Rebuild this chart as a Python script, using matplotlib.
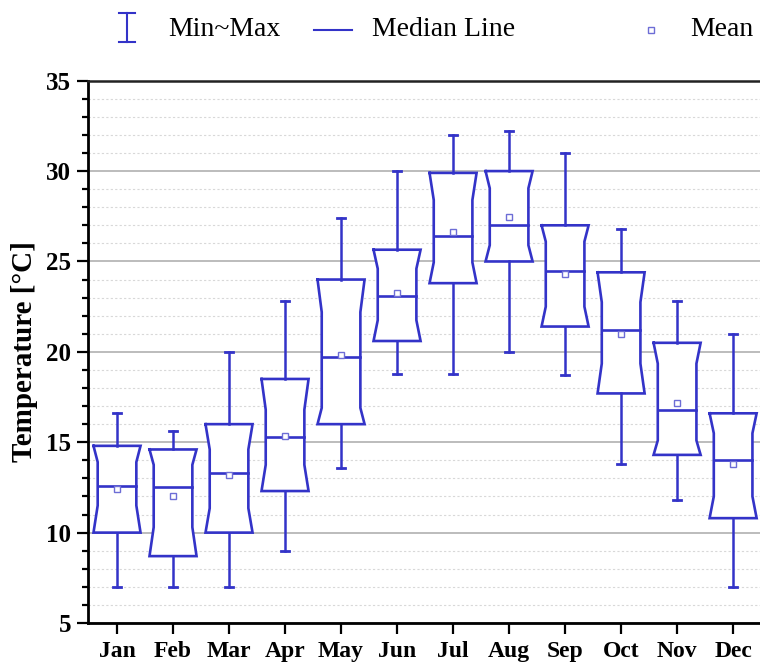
import numpy as np
import matplotlib
matplotlib.use('Agg')
import matplotlib.pyplot as plt
from matplotlib.lines import Line2D
from matplotlib.ticker import MultipleLocator

plt.rcParams['font.family'] = ['Liberation Serif', 'DejaVu Serif']

# data
months = ['Jan', 'Feb', 'Mar', 'Apr', 'May', 'Jun', 'Jul', 'Aug', 'Sep', 'Oct', 'Nov', 'Dec']
t_max = [16.6, 15.6, 20.0, 22.8, 27.4, 30.0, 32.0, 32.2, 31.0, 26.8, 22.8, 21.0]
q3 = [14.8, 14.6, 16.0, 18.5, 24.0, 25.65, 29.9, 30.0, 27.0, 24.4, 20.5, 16.6]
notch_hi = [13.9, 13.75, 14.6, 16.8, 22.2, 24.6, 28.4, 29.05, 26.1, 22.75, 19.35, 15.5]
median = [12.6, 12.5, 13.3, 15.3, 19.7, 23.1, 26.4, 27.0, 24.45, 21.2, 16.8, 14.0]
notch_lo = [11.5, 10.3, 11.35, 13.75, 16.9, 21.75, 24.95, 25.9, 22.5, 19.35, 15.1, 12.0]
q1 = [10.0, 8.7, 10.0, 12.3, 16.0, 20.6, 23.8, 25.0, 21.4, 17.7, 14.3, 10.8]
t_min = [7.0, 7.0, 7.0, 9.0, 13.6, 18.8, 18.8, 20.0, 18.7, 13.8, 11.8, 7.0]
mean = [12.43, 12.0, 13.17, 15.33, 19.8, 23.25, 26.65, 27.45, 24.3, 21.0, 17.15, 13.8]

blue = '#3333c8'
mean_col = '#6d6dd6'
w = 0.42     # half box width
d = 0.075    # notch inset
cap = 0.07

fig = plt.figure(figsize=(7.6, 6.65), dpi=100)
ax = fig.add_axes([88/760, 1-623/665, 1-88/760, (623-80.7)/665])

x = np.arange(1, len(months)+1)
for i in range(len(months)):
    xi = x[i]
    # whiskers
    ax.plot([xi, xi], [q3[i], t_max[i]], color=blue, lw=1.8, zorder=3)
    ax.plot([xi, xi], [t_min[i], q1[i]], color=blue, lw=1.8, zorder=3)
    ax.plot([xi-cap, xi+cap], [t_max[i]]*2, color=blue, lw=2, zorder=3)
    ax.plot([xi-cap, xi+cap], [t_min[i]]*2, color=blue, lw=2, zorder=3)
    # notched box
    px = [xi-w, xi-w+d, xi-w+d, xi-w, xi+w, xi+w-d, xi+w-d, xi+w, xi-w]
    py = [q3[i], notch_hi[i], notch_lo[i], q1[i], q1[i], notch_lo[i], notch_hi[i], q3[i], q3[i]]
    ax.fill(px, py, color='white', zorder=2)
    ax.plot(px, py, color=blue, lw=1.9, zorder=3, solid_joinstyle='miter')
    ax.plot([xi-w+d, xi+w-d], [median[i]]*2, color=blue, lw=1.9, zorder=3)
ax.plot(x, mean, ls='none', marker='s', ms=5, mfc='white', mec=mean_col, mew=1.0, zorder=4)

ax.set_xlim(0.482, 12.48)
ax.set_ylim(5, 35)
ax.set_xticks(x)
ax.set_xticklabels(months, fontsize=17, fontweight='bold')
ax.yaxis.set_major_locator(MultipleLocator(5))
ax.yaxis.set_minor_locator(MultipleLocator(1))
for lab in ax.get_yticklabels():
    lab.set_fontsize(18)
    lab.set_fontweight('bold')
ax.tick_params(axis='y', which='major', direction='out', length=8, width=1.6, pad=4)
ax.tick_params(axis='y', which='minor', direction='out', length=4.5, width=1.6)
ax.tick_params(axis='x', which='major', direction='out', length=8, width=1.6, pad=5)

ax.grid(axis='y', which='major', color='#aaaaaa', lw=1.1)
ax.grid(axis='y', which='minor', color='#d8d8d8', lw=0.8, ls=(0, (2, 2)))
ax.set_axisbelow(True)

for s in ['left', 'bottom']:
    ax.spines[s].set_linewidth(2)
ax.spines['top'].set_linewidth(1.8)
ax.spines['top'].set_color('#222222')
ax.spines['right'].set_visible(False)

ax.set_ylabel('Temperature [°C]', fontsize=21, fontweight='bold', labelpad=6)

# legend drawn along the top
ly = 1 - 30/665
fig.add_artist(Line2D([127/760]*2, [1-13/665, 1-42/665], color=blue, lw=1.5))
for yy in [13, 42]:
    fig.add_artist(Line2D([119/760, 135/760], [1-yy/665]*2, color=blue, lw=1.5))
fig.text(168/760, ly, 'Min~Max', fontsize=20, va='center', ha='left')
fig.add_artist(Line2D([314/760, 352/760], [ly, ly], color=blue, lw=1.5))
fig.text(372/760, ly, 'Median Line', fontsize=20, va='center', ha='left')
fig.add_artist(Line2D([651/760], [ly], ls='none', marker='s', ms=5, mfc='white', mec=mean_col, mew=1.0))
fig.text(690/760, ly, 'Mean', fontsize=20, va='center', ha='left')

fig.savefig('out.png', dpi=100)
